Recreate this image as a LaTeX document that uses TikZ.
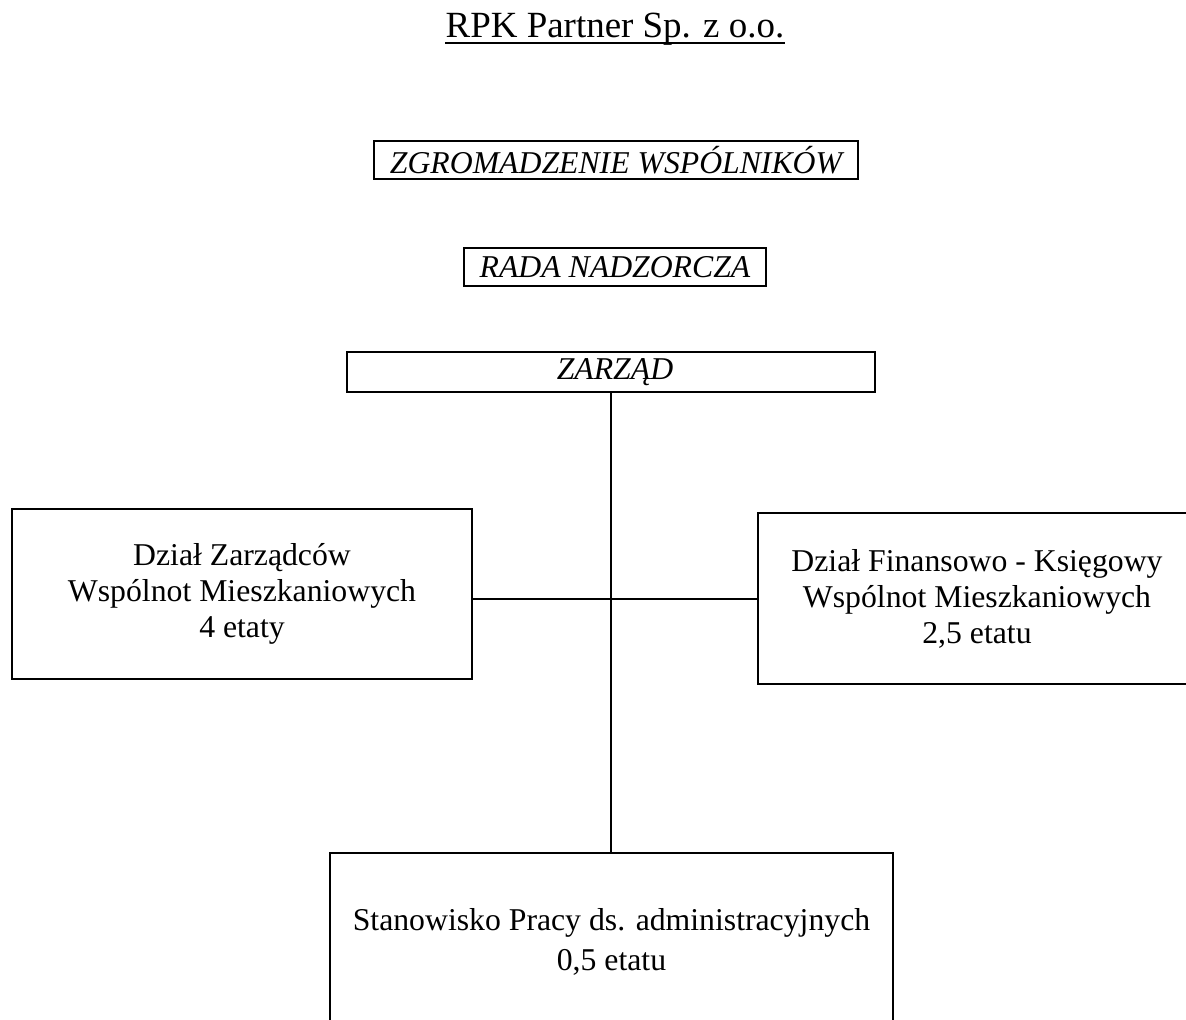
\documentclass[tikz,border=0pt]{standalone}
\usepackage{fontspec}
\setmainfont{Liberation Serif}
\usepackage{tikz}

\tikzset{
  topbox/.style={draw, line width=1.2pt, inner sep=0.75pt, font=\fontsize{23.8}{27}\selectfont\itshape},
  orgbox/.style={draw, line width=2pt, align=center, inner sep=0.75pt, font=\fontsize{23.8}{27}\selectfont},
  link/.style={line width=1.5pt}
}

\begin{document}
\begin{tikzpicture}[x=0.75pt,y=0.75pt,yscale=-1,xscale=1]
    \useasboundingbox (0,0) rectangle (1186,1020);

    % Text Node
    \node (title) [anchor=base, inner sep=0pt, font=\fontsize{27.7}{30}\selectfont] at (615,38) {RPK Partner Sp. z o.o.};
    \draw [line width=1.5pt] ([yshift=4pt]title.base west) -- ([yshift=4pt]title.base east);

    %Shape: Rectangle
    \node (zgrom) [topbox, minimum width=363pt, minimum height=28.5pt] at (616,160) {ZGROMADZENIE WSPÓLNIKÓW};
    %Shape: Rectangle
    \node (rada) [topbox, minimum width=226.5pt, minimum height=28.5pt] at (615,267) {RADA NADZORCZA};
    %Shape: Rectangle
    \node (zarzad) [topbox, line width=1.6pt, minimum width=396pt, minimum height=30pt] at (611,372) {\hspace*{6pt}ZARZĄD};

    %Shape: Rectangle
    \node (zwm) [orgbox, minimum width=345pt, minimum height=127.5pt] at (242,594) {Dział Zarządców\\Wspólnot Mieszkaniowych\\4 etaty};
    %Shape: Rectangle
    \node (dfk) [orgbox, minimum width=328.5pt, minimum height=128.25pt] at (977,598.5) {Dział Finansowo - Księgowy\\Wspólnot Mieszkaniowych\\2,5 etatu};
    %Shape: Rectangle
    \node (stan) [orgbox, minimum width=422.25pt, minimum height=133.5pt] at (611.5,942) {Stanowisko Pracy ds. administracyjnych\\[3pt]0,5 etatu};

    %Straight Lines
    \draw [link] (zarzad.south) -- (zarzad.south |- stan.north);
    %Straight Lines
    \draw [link] (zwm.east |- dfk.west) -- (dfk.west);

\end{tikzpicture}
\end{document}
